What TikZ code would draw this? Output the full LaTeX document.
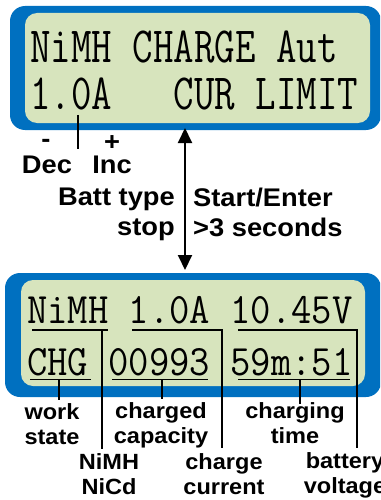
\documentclass[tikz,border=0pt]{standalone}
\usepackage{graphicx}
\usepackage{fontspec}
\usetikzlibrary{arrows.meta}
\newfontfamily\lblfont[FakeStretch=1.07]{Liberation Sans}
\definecolor{lcdblue}{RGB}{0,112,192}
\definecolor{lcdgreen}{RGB}{215,228,189}
\newcommand\lcdtop[1]{\scalebox{0.785}[1]{\fontsize{50.7}{50.7}\selectfont\ttfamily #1}}
\newcommand\lcdbot[1]{\scalebox{0.91}[1]{\fontsize{43.4}{43.4}\selectfont\ttfamily #1}}
\begin{document}
\begin{tikzpicture}[x=1pt,y=-1pt,
  frame/.style={fill=lcdblue, draw=none, rounded corners=15pt, anchor=north west, inner sep=0pt, outer sep=0pt},
  screen/.style={fill=lcdgreen, draw=none, rounded corners=12pt, anchor=north west, inner sep=0pt, outer sep=0pt},
  lcd/.style={anchor=base west, inner sep=0pt},
  lbltop/.style={inner sep=0pt, font=\lblfont\bfseries\fontsize{25.5}{29.5}\selectfont},
  lblbot/.style={inner sep=0pt, align=center, anchor=base, font=\lblfont\bfseries\fontsize{22}{25}\selectfont},
  lead/.style={line width=1.2pt},
  dblarrow/.style={line width=2pt, {Triangle[width=14pt,length=15pt]}-{Triangle[width=14pt,length=15pt]}}]
\useasboundingbox (0,0) rectangle (380,500);
\clip (0,0) rectangle (380,500);
\fill[white] (0,0) rectangle (380,500);
% top LCD
\node[frame, minimum width=371pt, minimum height=124pt] (topframe) at (10,6) {};
\node[screen, minimum width=345pt, minimum height=110pt] (topscreen) at (25,13) {};
\node[lcd] (t1) at (30,63) {\lcdtop{NiMH CHARGE Aut}};
\node[lcd] (t2) at (30,110) {\lcdtop{1.0A\ \ \ CUR LIMIT}};
% bottom LCD
\node[frame, minimum width=376pt, minimum height=124pt] (botframe) at (5,273) {};
\node[screen, minimum width=344pt, minimum height=106pt] (botscreen) at (21,280) {};
\node[lcd] (b1) at (27,323) {\lcdbot{NiMH 1.0A 10.45V}};
\node[lcd] (b2) at (27,375) {\lcdbot{CHG 00993 59m:51}};
% arrow between screens
\coordinate (ax) at (185,0);
\draw[dblarrow, shorten <=-2pt, shorten >=3pt] (topframe.south -| ax) -- (botframe.north -| ax);
% top labels
\node[lbltop, anchor=base] (minus) at (46,147.5) {-};
\node[lbltop, anchor=base] (plus) at (112,150.5) {+};
\node[lbltop, anchor=base] (dec) at (47,173) {Dec};
\node[lbltop, anchor=base] (inc) at (112,173) {Inc};
\coordinate (zero) at (78,115);
\coordinate (divend) at (78,149);
\draw[lead] (zero) -- (divend);
\node[lbltop, anchor=base east, align=right] (batt) at (175,235) {Batt type\\stop};
\node[lbltop, anchor=base west, align=left] (start) at (193,236) {Start/Enter\\>3 seconds};
% bottom labels
\node[lblbot] (work) at (52,444) {work\\state};
\node[lblbot] (capa) at (161,443) {charged\\capacity};
\node[lblbot] (ctime) at (295,443) {charging\\time};
\node[lblbot] (btype) at (109,494) {NiMH\\NiCd};
\node[lblbot] (ccur) at (224,494) {charge\\current};
\node[lblbot] (bvolt) at (345,493) {battery\\voltage};
% underlines and leaders, row 1
\coordinate (u1a) at (32,330); \coordinate (u1b) at (108,330); \coordinate (u1c) at (102,330);
\coordinate (u2a) at (132,330); \coordinate (u2b) at (222,330);
\coordinate (u3a) at (238,330); \coordinate (u3b) at (357,330);
\draw[lead] (u1a) -- (u1b);
\draw[lead, shorten >=4pt] (u1c) -- (u1c |- btype.north);
\draw[lead, shorten >=5pt] (u2a) -- (u2b) -- (u2b |- ccur.north);
\draw[lead, shorten >=4pt] (u3a) -- (u3b) -- (u3b |- bvolt.north);
% underlines and leaders, row 2
\coordinate (w1a) at (30,379.5); \coordinate (w1b) at (91,379.5); \coordinate (w1c) at (59,379.5);
\coordinate (w2a) at (112,379.5); \coordinate (w2b) at (208,379.5); \coordinate (w2c) at (162,379.5);
\coordinate (w3a) at (238,379.5); \coordinate (w3b) at (350,379.5); \coordinate (w3c) at (300,379.5);
\draw[lead] (w1a) -- (w1b);
\draw[lead] (w2a) -- (w2b);
\draw[lead] (w3a) -- (w3b);
\draw[lead, shorten >=3pt] (w1c) -- (w1c |- work.north);
\draw[lead, shorten >=3pt] (w2c) -- (w2c |- capa.north);
\draw[lead, shorten >=-2pt] (w3c) -- (w3c |- ctime.north);
\end{tikzpicture}
\end{document}
